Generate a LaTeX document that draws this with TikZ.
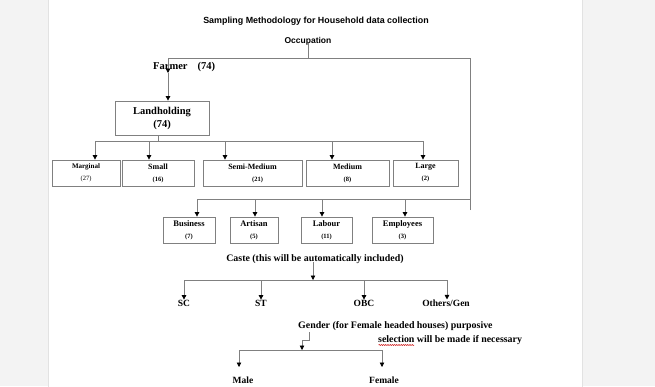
\documentclass[tikz,border=0pt]{standalone}
\usepackage{fontspec}
\setmainfont{Liberation Serif}
\newfontfamily\arialf{Liberation Sans}
\usetikzlibrary{arrows.meta,decorations.pathmorphing}
\definecolor{lngray}{HTML}{808080}
\definecolor{bggray}{HTML}{F3F3F3}
\definecolor{edgegray}{HTML}{E2E2E2}
\tikzset{
  ln/.style={draw=lngray, line width=0.8pt},
  arr/.style={ln, -{Triangle[black,length=4.5pt,width=4.5pt]}},
  box/.style={draw=lngray, line width=0.8pt, inner sep=0pt, align=center, minimum height=26pt},
  hd/.style={font=\arialf\bfseries\fontsize{8.5}{10}\selectfont, inner sep=0pt},
  lbl/.style={font=\bfseries\fontsize{9.5}{11}\selectfont, inner sep=0pt},
  lbltext/.style={font=\bfseries\fontsize{9.9}{11}\selectfont, inner sep=0pt},
}
\newcommand{\nm}[1]{{\bfseries\fontsize{8}{9.5}\selectfont #1}}
\newcommand{\nr}[1]{{\fontsize{6.5}{8}\selectfont #1}}
\begin{document}
\begin{tikzpicture}[x=1pt,y=-1pt]
\useasboundingbox (0,0) rectangle (655,386);
\clip (0,0) rectangle (655,386);
\fill[bggray] (0,0) rectangle (655,386);
\filldraw[fill=white, draw=edgegray, line width=0.6pt] (48,-2) rectangle (582,390);

% headings
\node[hd, font=\arialf\bfseries\fontsize{8.9}{10}\selectfont] (title) at (316,21) {Sampling Methodology for Household data collection};
\node[hd] (occ) at (308,41) {Occupation};
\coordinate (oc) at (308,58);
\draw[ln] (occ.south) ++(0,2pt) coordinate (ot) -- (oc);
\draw[ln] (470,210) coordinate (re) -- (470,58) -- (168,58) coordinate (fa);

\node[lbl, font=\bfseries\fontsize{10.5}{12}\selectfont, anchor=west] (farmer) at (153,67) {Farmer\hspace{10pt}(74)};
\coordinate (fb) at (168,73);
\draw[arr] (fa) -- (fb);

\node[box, minimum width=94pt, minimum height=34pt,
      font=\bfseries\fontsize{10.5}{13}\selectfont] (lh) at (162,118) {Landholding\\(74)};
\draw[arr] (fb) -- (fb |- lh.north);

% landholding row
\node[box, minimum width=68pt] (marg) at (86,173) {{\bfseries\fontsize{7}{8.5}\selectfont Marginal}\\\nr{(27)}};
\node[box, minimum width=72pt] (small) at (158,173) {\nm{Small}\\\nr{\bfseries(16)}};
\node[box, minimum width=99pt] (semi) at (252.5,173) {\nm{Semi-Medium}\\\hspace*{10pt}\nr{\bfseries(21)}};
\node[box, minimum width=83pt] (med) at (347.5,173) {\nm{Medium}\\\nr{\bfseries(8)}};
\node[box, minimum width=65pt] (large) at (425.5,173) {\nm{Large}\\\nr{\bfseries(2)}};

\coordinate (lhb) at (158,141);
\draw[ln] (lh.south -| lhb) -- (lhb);
\draw[ln] (95,141) -- (423,141);
\foreach \x/\n in {95/marg,149/small,225/semi,332/med,423/large}{
  \coordinate (t) at (\x,141);
  \draw[arr] (t) -- (t |- \n.north);
}

% occupation row
\node[box, minimum width=52pt] (bus) at (189,230) {{\bfseries\fontsize{8.5}{10}\selectfont Business}\\\nr{\bfseries(7)}};
\node[box, minimum width=48pt] (art) at (254,230) {{\bfseries\fontsize{8.5}{10}\selectfont Artisan}\\\nr{\bfseries(5)}};
\node[box, minimum width=51pt] (lab) at (326.5,230) {{\bfseries\fontsize{8.5}{10}\selectfont Labour}\\\nr{\bfseries(11)}};
\node[box, minimum width=61pt] (emp) at (402.5,230) {{\bfseries\fontsize{8.5}{10}\selectfont Employees}\\\nr{\bfseries(3)}};
\draw[ln] (197,199) -- (470,199);
\foreach \x/\n in {197/bus,255/art,322/lab,405/emp}{
  \coordinate (t) at (\x,199);
  \draw[arr] (t) -- (t |- \n.north);
}

% caste
\node[lbltext] (caste) at (315,259) {Caste (this will be automatically included)};
\coordinate (cb) at (313,280);
\draw[arr] (caste.south -| cb) ++(0,2pt) -- (cb);
\draw[ln] (184,280) -- (448,280);
\node[lbl] (sc) at (184,303) {SC};
\node[lbl] (st) at (261,303) {ST};
\node[lbl] (obc) at (364,303) {OBC};
\node[lbl] (oth) at (446,303) {Others/Gen};
\foreach \x/\n in {184/sc,261/st,364/obc,447/oth}{
  \coordinate (t) at (\x,280);
  \draw[arr] (t) -- (t |- \n.north);
}

% gender
\node[lbltext, anchor=west] (gen) at (298,326) {Gender (for Female headed houses) purposive};
\node[lbltext, anchor=west] (gen2) at (378,340) {selection will be made if necessary};
\draw[red!80!black, line width=0.5pt, decorate, decoration={snake, amplitude=0.5pt, segment length=2.2pt}] (378.5,345) -- (414,345);
\coordinate (gb) at (302,350);
\draw[arr] (309,332) -- (309,340) -- (302,340) -- (gb);
\draw[ln] (239,350) -- (382,350);
\node[lbl] (male) at (243,380.5) {Male};
\node[lbl] (female) at (384,380.5) {Female};
\draw[arr] (239,350) -- (239,367);
\draw[arr] (382,350) -- (382,367);
\end{tikzpicture}
\end{document}
